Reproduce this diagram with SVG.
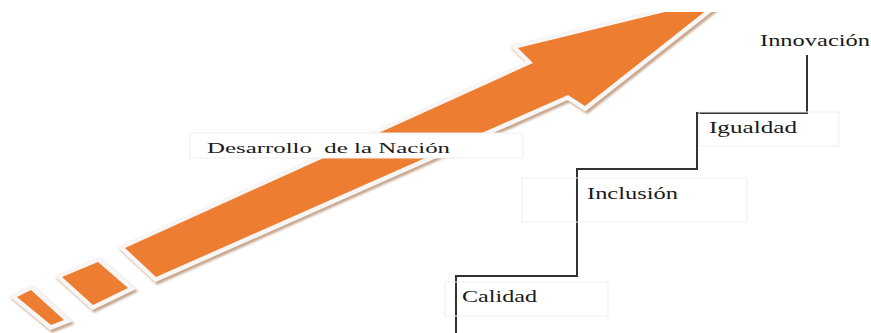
<svg xmlns="http://www.w3.org/2000/svg" width="871" height="333" viewBox="0 0 871 333">
<defs>
<style>
.shadow{fill:#c6a68d;stroke:#c6a68d;stroke-width:9;stroke-linejoin:miter;}
.rim{fill:#ed7d31;stroke:#f8f6f4;stroke-width:9;stroke-linejoin:miter;paint-order:stroke fill;}
.lbl{fill:#1a1a1a;}
.box{fill:#ffffff;stroke:#efefef;stroke-width:1;}
.stair{fill:none;stroke:#333333;stroke-width:2;}
</style>
<filter id="blur" x="-10%" y="-10%" width="120%" height="120%"><feGaussianBlur stdDeviation="1"/></filter>
<clipPath id="clipTop"><rect x="0" y="12" width="871" height="321"/></clipPath>
</defs>
<rect width="871" height="333" fill="#ffffff"/>
<g id="arrow" clip-path="url(#clipTop)">
<g filter="url(#blur)" transform="translate(2,2.5)">
<polygon class="shadow" points="125,248 533,63 518,48 722,-2 585,106 568,95 156,277"/>
<polygon class="shadow" points="62,277 98,262 128,288 93,305"/>
<polygon class="shadow" points="17,297 31,290 64,320 51,325"/>
</g>
<polygon class="rim" points="125,248 533,63 518,48 722,-2 585,106 568,95 156,277"/>
<polygon class="rim" points="62,277 98,262 128,288 93,305"/>
<polygon class="rim" points="17,297 31,290 64,320 51,325"/>
</g>
<g id="node-desarrollo">
<rect class="box" x="190" y="133" width="333" height="25"/>
<text class="lbl" font-family="'Liberation Serif','DejaVu Serif',serif" x="207" y="153" font-size="15.5" textLength="243" lengthAdjust="spacingAndGlyphs" xml:space="preserve">Desarrollo  de la Nación</text>
</g>
<g id="connectors">
<polyline class="stair" points="456,333 456,276 577,276 577,169 697,169 697,113 807,113 807,55"/>
</g>
<g id="node-calidad">
<rect class="box" x="445" y="282" width="163" height="34" fill-opacity="0"/>
<text class="lbl" font-family="'Liberation Serif','DejaVu Serif',serif" x="462" y="302" font-size="17" textLength="75" lengthAdjust="spacingAndGlyphs">Calidad</text>
</g>
<g id="node-inclusion">
<rect class="box" x="522" y="178" width="225" height="44" fill-opacity="0"/>
<text class="lbl" font-family="'Liberation Serif','DejaVu Serif',serif" x="587" y="199" font-size="17" textLength="91" lengthAdjust="spacingAndGlyphs">Inclusión</text>
</g>
<g id="node-igualdad">
<rect class="box" x="699" y="112" width="140" height="34" fill-opacity="0"/>
<text class="lbl" font-family="'Liberation Serif','DejaVu Serif',serif" x="709" y="133" font-size="17" textLength="88" lengthAdjust="spacingAndGlyphs">Igualdad</text>
</g>
<g id="node-innovacion">
<text class="lbl" font-family="'Liberation Serif','DejaVu Serif',serif" x="760" y="46" font-size="17" textLength="110" lengthAdjust="spacingAndGlyphs">Innovación</text>
</g>
</svg>
